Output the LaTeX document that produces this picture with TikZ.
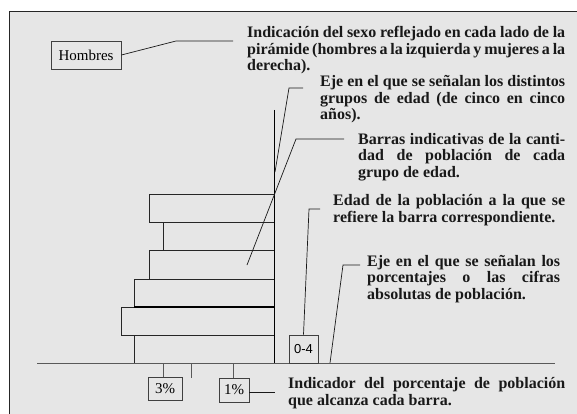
\documentclass[tikz,border=0pt]{standalone}
\usepackage{fontspec}
\setmainfont{Liberation Serif}
\newfontfamily\arialf{Liberation Sans}
\definecolor{bgc}{HTML}{E6E6E6}
\newcommand\jl[2]{\makebox[#1][s]{#2}}
\begin{document}
\begin{tikzpicture}[x=1pt,y=-1pt,
  ann/.style={font=\fontsize{16}{16.5}\selectfont\bfseries, inner sep=0, anchor=base west, align=left, text=black!90},
  lbl/.style={draw=black!75, line width=0.8pt, inner sep=0, font=\fontsize{15}{15}\selectfont},
  ln/.style={draw=black!90, line width=0.7pt},
  barbox/.style={draw=black!85, line width=0.8pt},
  axisl/.style={draw=black!65, line width=1pt}]
\useasboundingbox (0,0) rectangle (577,414);
\fill[white] (0,0) rectangle (577,414);
\fill[bgc] (9,12) rectangle (577,414);
\draw[black!85, line width=1pt] (9,414) -- (9,12) -- (577,12);

% bars
\draw[barbox] (149,194) rectangle (274,222);
\draw[barbox] (163,222) rectangle (274,250);
\draw[barbox] (149,250) rectangle (274,279);
\draw[barbox] (134,279) rectangle (274,307);
\draw[barbox] (121,307) rectangle (274,335);
\draw[barbox] (134,335) rectangle (274,363);
\draw[black, line width=1.4pt] (134,307) -- (274,307);

% axes
\draw[axisl] (37,363) -- (555,363);
\draw[black, line width=0.8pt] (274,110) -- (274,194);
\draw[black, line width=1.8pt] (274.5,194) -- (274.5,363);

% label boxes
\node[lbl, minimum width=70pt, minimum height=28pt] (hom) at (86,55) {Hombres};
\node[lbl, minimum width=34pt, minimum height=23pt] (p3) at (165,388.5) {3\%};
\node[lbl, minimum width=30pt, minimum height=24pt] (p1) at (234,390) {1\%};
\node[lbl, minimum width=29pt, minimum height=28pt, font=\arialf\fontsize{13}{13}\selectfont] (age) at (303.5,349) {0-4};

% ticks
\coordinate (t3) at (163,363);
\coordinate (t2) at (191,363);
\coordinate (t2e) at (191,378);
\coordinate (t1) at (233,363);
\draw[axisl] (t3) -- (t3 |- p3.north);
\draw[axisl] (t2) -- (t2e);
\draw[axisl] (t1) -- (t1 |- p1.north);

% annotations (anchor = baseline of the last line)
\node[ann] (a1) at (247,71) {\jl{318pt}{Indicación del sexo reflejado en cada lado de la}\\
\jl{318pt}{pirámide (hombres a la izquierda y mujeres a la}\\derecha).};
\node[ann] (a2) at (320,120) {\jl{245pt}{Eje en el que se señalan los distintos}\\
\jl{245pt}{grupos de edad (de cinco en cinco}\\años).};
\node[ann] (a3) at (358,177) {\jl{207pt}{Barras indicativas de la canti-}\\
\jl{207pt}{dad de población de cada}\\grupo de edad.};
\node[ann] (a4) at (333,222) {\jl{232pt}{Edad de la población a la que se}\\refiere la barra correspondiente.};
\node[ann] (a5) at (367,299) {\jl{193pt}{Eje en el que se señalan los}\\
\jl{193pt}{porcentajes o las cifras}\\absolutas de población.};
\node[ann] (a6) at (288,405) {\jl{277pt}{Indicador del porcentaje de población}\\que alcanza cada barra.};

% leaders
\coordinate (l1a) at (176,41); \coordinate (l1b) at (233,41);
\draw[ln] (hom.east) -- (l1a) -- (l1b);
\coordinate (l2a) at (303,88); \coordinate (l2b) at (289,88); \coordinate (l2c) at (275,172);
\draw[ln] (l2a) -- (l2b) -- (l2c);
\coordinate (l3a) at (344,139); \coordinate (l3b) at (296,139); \coordinate (l3c) at (247,265);
\draw[ln] (l3a) -- (l3b) -- (l3c);
\coordinate (l4a) at (320,209); \coordinate (l4b) at (309,209);
\draw[ln] (l4a) -- (l4b) -- (age.north);
\coordinate (l5a) at (360,265); \coordinate (l5b) at (343,265); \coordinate (l5c) at (330,363);
\draw[ln] (l5a) -- (l5b) -- (l5c);
\coordinate (l6) at (275,392);
\draw[ln] (p1.east |- l6) -- (l6);
\end{tikzpicture}
\end{document}
